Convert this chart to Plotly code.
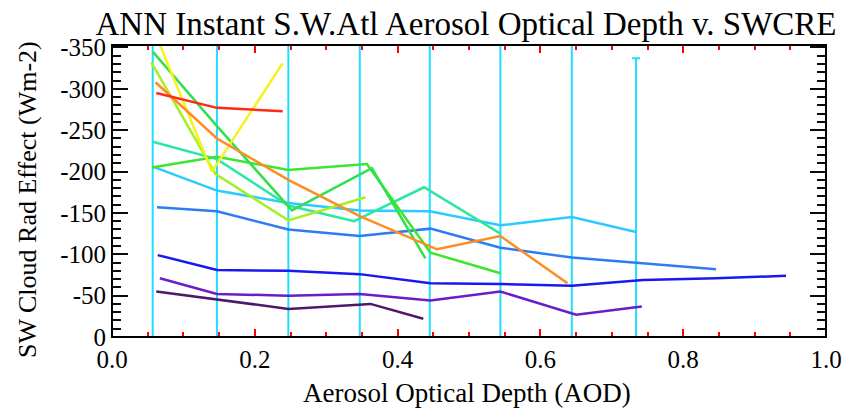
import plotly.graph_objects as go

# ---- data ----
title_text = "ANN Instant S.W.Atl Aerosol Optical Depth v. SWCRE"
x_title = "Aerosol Optical Depth (AOD)"
y_title = "SW Cloud Rad Effect (Wm-2)"

x_tickvals = [0.0, 0.2, 0.4, 0.6, 0.8, 1.0]
x_ticktext = ["0.0", "0.2", "0.4", "0.6", "0.8", "1.0"]
y_tickvals = [0, -50, -100, -150, -200, -250, -300, -350]
y_ticktext = ["0", "-50", "-100", "-150", "-200", "-250", "-300", "-350"]

dpurple_x = [0.062, 0.147, 0.247, 0.362, 0.436]
dpurple_y = [-55, -45, -34, -40, -22]

purple_x = [0.067, 0.147, 0.247, 0.347, 0.446, 0.544, 0.65, 0.742]
purple_y = [-71, -52, -50, -52, -44, -55, -27, -37]

blue_x = [0.064, 0.147, 0.247, 0.347, 0.446, 0.544, 0.644, 0.744, 0.846, 0.944]
blue_y = [-99, -81, -80, -76, -65, -64, -62, -69, -71, -74]

mblue_x = [0.063, 0.147, 0.247, 0.347, 0.446, 0.544, 0.644, 0.734, 0.846]
mblue_y = [-157, -152, -130, -122, -131, -108, -96, -90, -82]

cyan_x = [0.057, 0.147, 0.247, 0.347, 0.445, 0.544, 0.644, 0.734]
cyan_y = [-206, -177, -162, -153, -152, -135, -145, -127]
cyan_err_top = [-450, -450, -450, -450, -450, -450, -450, -337]
cyan_err_bottom = [40, 40, 40, 40, 40, 40, 40, 40]

aqua_x = [0.057, 0.147, 0.247, 0.339, 0.437, 0.544]
aqua_y = [-236, -215, -159, -140, -181, -125]

greenB_x = [0.056, 0.147, 0.247, 0.357, 0.446, 0.544]
greenB_y = [-205, -218, -202, -209, -102, -77]

greenA_x = [0.057, 0.147, 0.252, 0.364, 0.439]
greenA_y = [-345, -255, -153, -204, -95]

ygreen_x = [0.055, 0.145, 0.247, 0.355]
ygreen_y = [-332, -197, -141, -169]

yellow_x = [0.062, 0.14, 0.239]
yellow_y = [-364, -200, -331]

orange_x = [0.061, 0.147, 0.247, 0.347, 0.455, 0.544, 0.638]
orange_y = [-308, -240, -190, -146, -106, -122, -65]

red_x = [0.062, 0.147, 0.239]
red_y = [-295, -277, -273]

series = [
    (dpurple_x, dpurple_y, "#4E1868"),
    (purple_x, purple_y, "#6A1CC8"),
    (blue_x, blue_y, "#1818F0"),
    (mblue_x, mblue_y, "#2E7CF2"),
    (aqua_x, aqua_y, "#2AE8A2"),
    (greenB_x, greenB_y, "#3CE62C"),
    (greenA_x, greenA_y, "#30E050"),
    (ygreen_x, ygreen_y, "#A6F020"),
    (yellow_x, yellow_y, "#F6F21E"),
    (orange_x, orange_y, "#FF8C20"),
    (red_x, red_y, "#FF2A16"),
]

SERIF = "Liberation Serif"
TICK = "#0a0a0a"

fig = go.Figure()

# cyan series with its (very tall) error bars
fig.add_trace(go.Scatter(
    x=cyan_x, y=cyan_y, mode="lines",
    line=dict(color="#2CCAFF", width=2.5),
    error_y=dict(
        type="data", symmetric=False,
        array=[b - y for b, y in zip(cyan_err_bottom, cyan_y)],
        arrayminus=[y - t for y, t in zip(cyan_y, cyan_err_top)],
        color="#22DDFF", thickness=2, width=4,
    ),
    showlegend=False, hoverinfo="skip",
))

for xs, ys, col in series:
    fig.add_trace(go.Scatter(
        x=xs, y=ys, mode="lines",
        line=dict(color=col, width=2.5),
        showlegend=False, hoverinfo="skip",
    ))

fig.update_xaxes(
    range=[0, 1], tickmode="array", tickvals=x_tickvals, ticktext=x_ticktext,
    ticks="inside", ticklen=8, tickcolor="red", tickwidth=2,
    showline=True, linecolor="black", mirror="ticks",
    minor=dict(tickmode="linear", tick0=0, dtick=0.05, ticklen=5, tickwidth=2, ticks="inside", tickcolor="red"),
    tickfont=dict(family=SERIF, size=25, color="black"),
)
fig.update_yaxes(
    range=[0, -353], tickvals=y_tickvals, ticktext=y_ticktext,
    ticks="inside", ticklen=16, tickcolor=TICK, tickwidth=2,
    showline=True, linecolor="black", mirror="ticks",
    minor=dict(dtick=10, ticklen=9, ticks="inside", tickcolor=TICK),
    tickfont=dict(family=SERIF, size=25, color="black"),
)

# the page body adds an 8 px offset, so the figure is 8 px smaller than the window
fig.update_layout(
    width=853, height=400,
    margin=dict(l=104, r=35, t=37, b=71),
    paper_bgcolor="white", plot_bgcolor="white",
    title=dict(
        text=title_text, font=dict(family=SERIF, size=33, color="black"),
        x=458 / 853, xref="container", xanchor="center",
        y=1 - 15 / 400, yref="container", yanchor="middle",
    ),
    shapes=[dict(type="rect", xref="paper", yref="paper", x0=0, x1=1, y0=0, y1=1,
                 line=dict(color="black", width=2), layer="above")],
    annotations=[
        dict(text=x_title, xref="paper", yref="paper", x=(467 - 112) / 714, y=(337 - 393) / 292,
             xanchor="center", yanchor="middle", showarrow=False,
             font=dict(family=SERIF, size=27, color="black")),
        dict(text=y_title, xref="paper", yref="paper", x=(27 - 112) / 714, y=(337 - 200) / 292,
             xanchor="center", yanchor="middle", showarrow=False, textangle=-90,
             font=dict(family=SERIF, size=26, color="black")),
    ],
)

fig.write_html("out.html")
